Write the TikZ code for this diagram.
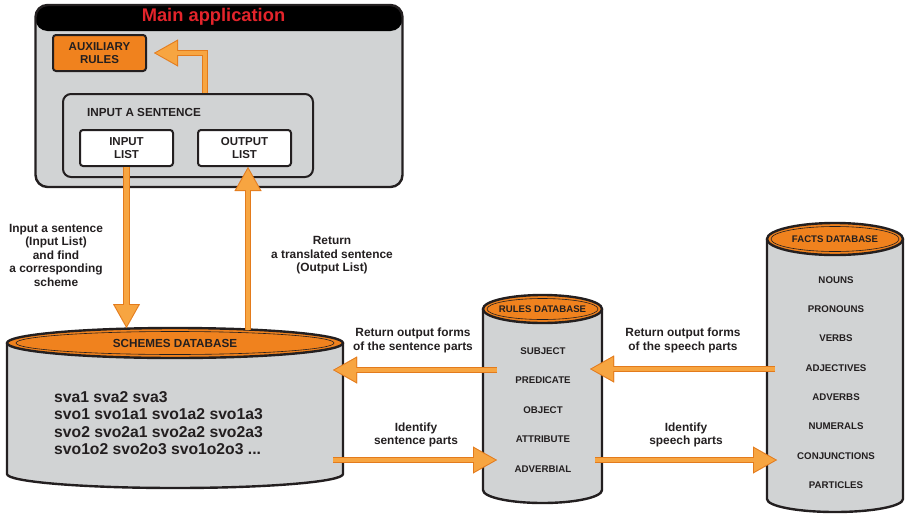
\documentclass[tikz,border=0pt]{standalone}
\usepackage{fontspec}
\setmainfont{Liberation Sans}
\usetikzlibrary{arrows.meta}

\definecolor{panelgray}{HTML}{D1D3D4}
\definecolor{dborange}{HTML}{F0821E}
\definecolor{arrowfill}{HTML}{F7A541}
\definecolor{arrowedge}{HTML}{E37B1C}
\definecolor{inkdark}{HTML}{231F20}
\definecolor{titlered}{HTML}{E3242B}

\tikzset{
  dbedge/.style={draw=inkdark, line width=2.4pt},
  panel/.style={draw=inkdark, line width=2pt, fill=panelgray, rounded corners=8pt},
  listbox/.style={draw=inkdark, line width=2pt, fill=white, rounded corners=3pt,
    minimum width=93pt, minimum height=36pt, inner sep=0pt, align=center,
    font=\fontsize{11.5}{13}\selectfont\bfseries, text=inkdark},
  label/.style={align=center, inner sep=0pt, text=inkdark,
    font=\fontsize{11.9}{13.5}\selectfont\bfseries},
  dbtitle/.style={inner sep=0pt, text=inkdark, font=\fontsize{9.6}{11}\selectfont\bfseries},
  item/.style={inner sep=0pt, text=inkdark, font=\fontsize{9.7}{11}\selectfont\bfseries},
  flow/.style={draw=arrowedge, line width=6.5pt,
    -{Triangle[length=24pt,width=27pt,line width=0.01pt]},
    postaction={draw=arrowfill, line width=4.5pt, shorten >=2pt,
      -{Triangle[length=21pt,width=23.5pt,line width=0.01pt]}}},
}

% database cylinder: centre x, half width, top y, bottom y, top ry, bottom ry, inner ring inset
\newcommand\dbcylinder[7]{%
  \path[fill=panelgray] (#1-#2,#3) -- (#1-#2,#4)
    arc[start angle=180,end angle=360,x radius=#2pt,y radius=#6pt] -- (#1+#2,#3) -- cycle;
  \draw[dbedge] (#1-#2,#3) -- (#1-#2,#4)
    arc[start angle=180,end angle=360,x radius=#2pt,y radius=#6pt] -- (#1+#2,#3);
  \draw[dbedge, fill=dborange] (#1,#3) ellipse[x radius=#2pt, y radius=#5pt];
  \draw[inkdark, line width=0.6pt] (#1,#3) ellipse[x radius=#2pt-#7pt, y radius=#5pt-3.5pt];
}

\begin{document}
\begin{tikzpicture}[x=1pt, y=-1pt]
\useasboundingbox (0,0) rectangle (907,514);

% ---- main application window ----
\node[draw=inkdark, line width=2.4pt, fill=panelgray, rounded corners=12pt,
  minimum width=367pt, minimum height=182pt, inner sep=0pt,
  path picture={\fill[black] (path picture bounding box.north west) rectangle
    ([yshift=-26pt]path picture bounding box.north east);}] (app) at (219,96) {};
\node[inner sep=0pt, text=titlered, font=\fontsize{18.3}{20}\selectfont\bfseries]
  (apptitle) at (213.5,17) {Main application};

\node[draw=inkdark, line width=2pt, fill=dborange, rounded corners=3pt,
  minimum width=93pt, minimum height=36pt, inner sep=0pt, align=center,
  font=\fontsize{11.5}{13}\selectfont\bfseries, text=inkdark] (aux) at (99.5,53) {AUXILIARY\\RULES};

\node[panel, minimum width=250pt, minimum height=83pt, inner sep=0pt] (isent) at (188,135.5) {};
\node[anchor=west, inner sep=0pt, text=inkdark, font=\fontsize{11.7}{13}\selectfont\bfseries]
  (isenttitle) at (87,112) {INPUT A SENTENCE};
\node[listbox] (inlist) at (126.5,148) {INPUT\\LIST};
\node[listbox] (outlist) at (244.5,148) {OUTPUT\\LIST};

% ---- databases ----
\dbcylinder{175}{168}{343}{474}{15}{14}{9}
\node[dbtitle, font=\fontsize{11.7}{13}\selectfont\bfseries] (schtitle) at (175,343) {SCHEMES DATABASE};
\node[anchor=west, align=left, inner sep=0pt, text=inkdark,
  font=\fontsize{15.7}{17.5}\selectfont\bfseries] (schemes) at (54,423)
  {sva1 sva2 sva3\\svo1 svo1a1 svo1a2 svo1a3\\svo2 svo2a1 svo2a2 svo2a3\\svo1o2 svo2o3 svo1o2o3 ...};

\dbcylinder{542.5}{59.5}{309}{490}{14}{13}{4}
\node[dbtitle] (rulestitle) at (542.5,309) {RULES DATABASE};
\foreach \t [count=\i] in {SUBJECT,PREDICATE,OBJECT,ATTRIBUTE,ADVERBIAL}
  \node[item] (rule\i) at (543,{351+29.5*(\i-1)}) {\t};

\dbcylinder{835}{68}{239}{499}{16}{13}{4}
\node[dbtitle] (factstitle) at (835,239) {FACTS DATABASE};
\foreach \t [count=\i] in {NOUNS,PRONOUNS,VERBS,ADJECTIVES,ADVERBS,NUMERALS,CONJUNCTIONS,PARTICLES}
  \node[item] (fact\i) at (836,{280+29.3*(\i-1)}) {\t};

% ---- connector end points on the cylinders ----
\coordinate (schIn) at (126.5,328);
\coordinate (schOut) at (248,330);
\coordinate (schRet) at (333,370);
\coordinate (schId) at (333,460);
\coordinate (rulesRetOut) at (497,370);
\coordinate (rulesIdIn) at (497,460);
\coordinate (rulesRetIn) at (590,369);
\coordinate (rulesIdOut) at (595,460);
\coordinate (factsRetOut) at (775,369);
\coordinate (factsIdIn) at (777,460);

% ---- flows ----
\draw[flow] ([xshift=17pt]isent.north) |- ([xshift=7pt]aux.east);
\draw[flow] (inlist.south) -- (inlist.south |- schIn);
\draw[flow] (schOut) -- (schOut |- outlist.south);
\draw[flow] (rulesRetOut) -- (schRet);
\draw[flow] (schId) -- (rulesIdIn);
\draw[flow] (factsRetOut) -- (rulesRetIn);
\draw[flow] (rulesIdOut) -- (factsIdIn);

% ---- flow labels ----
\node[label] (lblIn) at (56,255) {Input a sentence\\(Input List)\\and find\\a corresponding\\scheme};
\node[label] (lblOut) at (332,255.5) {Return\\a translated sentence\\(Output List)};
\node[label] (lblSentRet) at (413,340.5) {Return output forms\\of the sentence parts};
\node[label] (lblSentId) at (416,435) {Identify\\sentence parts};
\node[label] (lblSpRet) at (683,340.5) {Return output forms\\of the speech parts};
\node[label] (lblSpId) at (686,435) {Identify\\speech parts};
\end{tikzpicture}
\end{document}
